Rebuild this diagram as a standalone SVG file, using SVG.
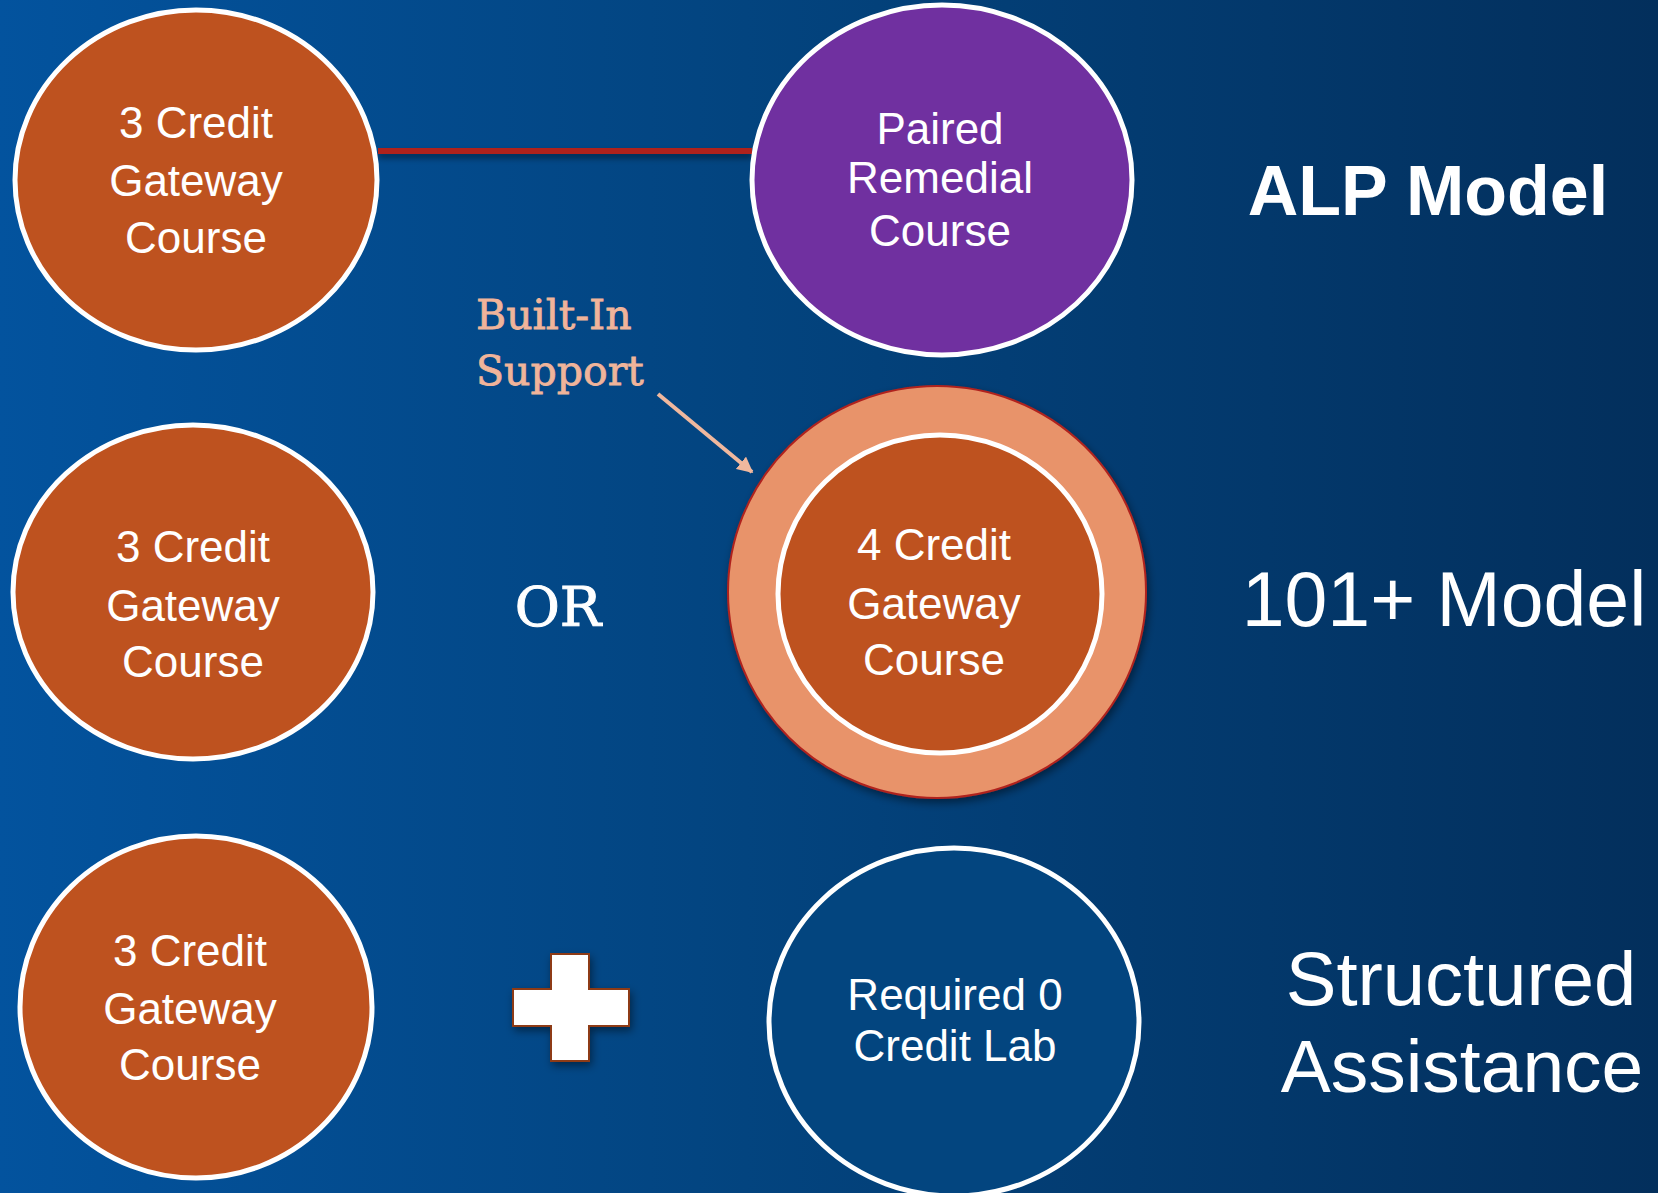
<svg xmlns="http://www.w3.org/2000/svg" width="1658" height="1193" viewBox="0 0 1658 1193">
<defs>
<linearGradient id="bg" x1="0" y1="0" x2="1" y2="0">
<stop offset="0" stop-color="#03539E"/>
<stop offset="0.45" stop-color="#03447F"/>
<stop offset="1" stop-color="#032F5C"/>
</linearGradient>
<filter id="sh" x="-20%" y="-20%" width="140%" height="140%">
<feDropShadow dx="2" dy="4" stdDeviation="4" flood-color="#000" flood-opacity="0.45"/>
</filter>
<filter id="shl" filterUnits="userSpaceOnUse" x="360" y="130" width="410" height="50">
<feDropShadow dx="0" dy="4" stdDeviation="3" flood-color="#000" flood-opacity="0.45"/>
</filter>
<marker id="ah" viewBox="0 0 10 10" refX="9" refY="5" markerWidth="4" markerHeight="4" orient="auto" markerUnits="strokeWidth">
<path d="M0,0 L10,5 L0,10 z" fill="#F0B89E"/>
</marker>
<style>
.org{fill:#BE521F;stroke:#FFFFFF;stroke-width:5}
.lbl{font-family:"Liberation Sans",Arial,sans-serif;font-size:44px;fill:#FFFFFF;text-anchor:middle}
.ttl{font-family:"Liberation Sans",Arial,sans-serif;fill:#FFFFFF;text-anchor:middle}
.slab{font-family:"DejaVu Serif",serif}
</style>
</defs>
<rect x="0" y="0" width="1658" height="1193" fill="url(#bg)"/>

<g id="connectors">
<line x1="378" y1="151" x2="752" y2="151" stroke="#B0231F" stroke-width="6" filter="url(#shl)"/>
<line x1="658" y1="394" x2="752" y2="472" stroke="#F0B89E" stroke-width="4" marker-end="url(#ah)"/>
</g>

<g id="node-3credit-alp">
<ellipse class="org" cx="196" cy="180" rx="181" ry="170"/>
<text class="lbl" x="196" y="138">3 Credit</text>
<text class="lbl" x="196" y="196">Gateway</text>
<text class="lbl" x="196" y="253">Course</text>
</g>

<g id="node-paired-remedial">
<ellipse cx="942" cy="180" rx="190" ry="175" fill="#7030A0" stroke="#FFFFFF" stroke-width="5"/>
<text class="lbl" x="940" y="144">Paired</text>
<text class="lbl" x="940" y="193">Remedial</text>
<text class="lbl" x="940" y="246">Course</text>
</g>

<g id="node-built-in-support">
<text class="slab" x="476" y="329" font-size="41" fill="#F0B49A" stroke="#F0B49A" stroke-width="0.8">Built-In</text>
<text class="slab" x="476" y="385" font-size="41" fill="#F0B49A" stroke="#F0B49A" stroke-width="0.8">Support</text>
</g>

<g id="node-3credit-101">
<ellipse class="org" cx="193" cy="592" rx="180" ry="167"/>
<text class="lbl" x="193" y="562">3 Credit</text>
<text class="lbl" x="193" y="621">Gateway</text>
<text class="lbl" x="193" y="677">Course</text>
</g>

<g id="node-or">
<text class="slab" x="558" y="626" font-size="55" fill="#FFFFFF" stroke="#FFFFFF" stroke-width="1" text-anchor="middle">OR</text>
</g>

<g id="node-4credit">
<ellipse cx="937" cy="592" rx="209" ry="206" fill="#E8936B" stroke="#B0231F" stroke-width="2" filter="url(#sh)"/>
<ellipse class="org" cx="940" cy="594" rx="162" ry="159"/>
<text class="lbl" x="934" y="560">4 Credit</text>
<text class="lbl" x="934" y="619">Gateway</text>
<text class="lbl" x="934" y="675">Course</text>
</g>

<g id="node-3credit-sa">
<ellipse class="org" cx="196" cy="1007" rx="176" ry="171"/>
<text class="lbl" x="190" y="966">3 Credit</text>
<text class="lbl" x="190" y="1024">Gateway</text>
<text class="lbl" x="190" y="1080">Course</text>
</g>

<g id="node-plus">
<path d="M551,954 H589 V989 H629 V1026 H589 V1061 H551 V1026 H513 V989 H551 Z" fill="#FFFFFF" stroke="#8E3A17" stroke-width="2" filter="url(#sh)"/>
</g>

<g id="node-lab">
<ellipse cx="954" cy="1022" rx="185" ry="174" fill="#03457F" stroke="#FFFFFF" stroke-width="5"/>
<text class="lbl" x="955" y="1010">Required 0</text>
<text class="lbl" x="955" y="1061">Credit Lab</text>
</g>

<g id="node-alp-model">
<text class="ttl" x="1428" y="215" font-size="70" font-weight="bold">ALP Model</text>
</g>
<g id="node-101-model">
<text class="ttl" x="1444" y="626" font-size="77">101+ Model</text>
</g>
<g id="node-structured">
<text class="ttl" x="1461" y="1005" font-size="76">Structured</text>
<text class="ttl" x="1462" y="1092" font-size="75">Assistance</text>
</g>
</svg>
